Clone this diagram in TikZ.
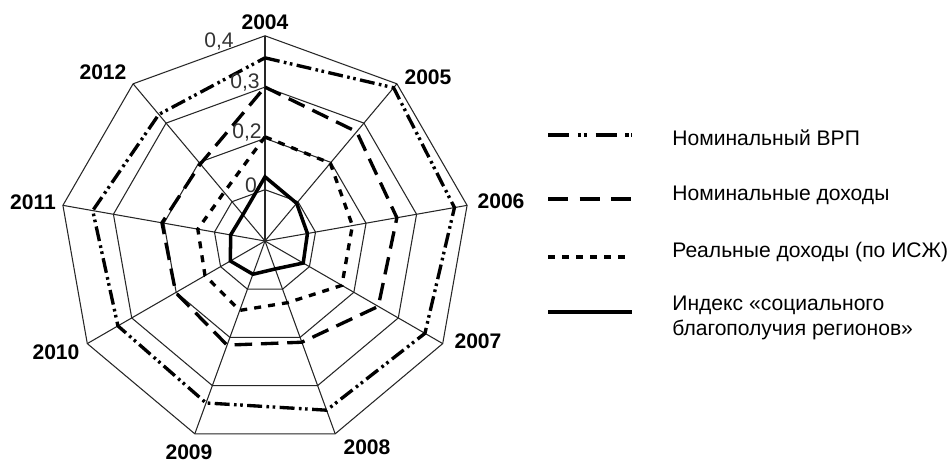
\documentclass[tikz,border=0pt]{standalone}
\usepackage{fontspec}
\setmainfont{Liberation Sans}
\usetikzlibrary{calc}

\def\edin{51.3}

\tikzset{
  setka/.style={line width=0.6pt, black!85},
  vrp/.style={line width=1.9pt, dash pattern=on 8.5pt off 2.5pt on 1.5pt off 2pt on 1.5pt off 2.5pt},
  nomdoh/.style={line width=1.9pt, dash pattern=on 10pt off 5pt},
  realdoh/.style={line width=1.9pt, dash pattern=on 4pt off 4pt},
  indeks/.style={line width=2pt},
  god/.style={font=\bfseries\fontsize{12}{14}\selectfont, inner sep=0pt},
  shkala/.style={font=\fontsize{12}{14}\selectfont, text=black!80, inner sep=0pt},
  legtxt/.style={font=\fontsize{12}{14.5}\selectfont, anchor=west, align=left, inner sep=0pt}
}

\begin{document}
\begin{tikzpicture}[x=0.02cm,y=0.02cm]
\fill[white] (0,0) rectangle (950,462);
\useasboundingbox (0,0) rectangle (950,462);

\begin{scope}[shift={(265,221)}]
\coordinate (o) at (0,0);
% setka
\foreach \r in {1,...,4}
  \draw[setka] (90:{\r*\edin}) \foreach \a in {50,10,...,-230} { -- (\a:{\r*\edin}) } -- cycle;
\foreach \g [count=\i from 0] in {2004,...,2012} {
  \coordinate (v\g) at ({90-40*\i}:{4*\edin});
  \draw[setka] (o) -- (v\g);
}
% ryady
\draw[realdoh] (90:{2.03*\edin}) \foreach \v [count=\i] in {1.98,1.73,1.73,1.28,1.44,1.35,1.33,1.24} { -- ({90-40*\i}:{\v*\edin}) } -- cycle;
\draw[nomdoh] (90:{3.0*\edin}) \foreach \v [count=\i] in {2.78,2.61,2.55,2.10,2.16,2.01,2.04,1.96} { -- ({90-40*\i}:{\v*\edin}) } -- cycle;
\draw[vrp] (90:{3.57*\edin}) \foreach \v [count=\i] in {3.90,3.75,3.60,3.51,3.36,3.31,3.41,3.22} { -- ({90-40*\i}:{\v*\edin}) } -- cycle;
\draw[indeks] (90:{1.25*\edin}) \foreach \v [count=\i] in {0.96,0.84,0.86,0.58,0.69,0.78,0.68,0.67} { -- ({90-40*\i}:{\v*\edin}) } -- cycle;
\end{scope}

\node[shkala] (s4) at (219,421) {0,4};
\node[shkala] (s3) at (245,380) {0,3};
\node[shkala] (s2) at (247,330) {0,2};
\node[shkala] (s1) at (251,277) {0};

\foreach \g/\x/\y in {2004/265/440, 2005/428/385, 2006/501/261, 2007/478/121, 2008/367/15,
  2009/189/10, 2010/56/110, 2011/33/260, 2012/103/390}
  \node[god] (y\g) at (\x,\y) {\g};

% legenda
\coordinate (l1) at (548,327);
\coordinate (l2) at (548,263);
\coordinate (l3) at (548,205);
\coordinate (l4) at (548,150);
\draw[vrp, dash pattern=on 12pt off 5pt on 1.8pt off 1.5pt on 1.8pt off 5pt] (l1) -- ++(84,0);
\draw[nomdoh, dash pattern=on 11.5pt off 6.5pt] (l2) -- ++(84,0);
\draw[realdoh] (l3) -- ++(84,0);
\draw[indeks] (l4) -- ++(84,0);
\node[legtxt] (t1) at (672,324) {Номинальный ВРП};
\node[legtxt] (t2) at (672,267) {Номинальные доходы};
\node[legtxt] (t3) at (672,210) {Реальные доходы (по ИСЖ)};
\node[legtxt] (t4) at (672,144) {Индекс «социального\\благополучия регионов»};
\end{tikzpicture}
\end{document}
